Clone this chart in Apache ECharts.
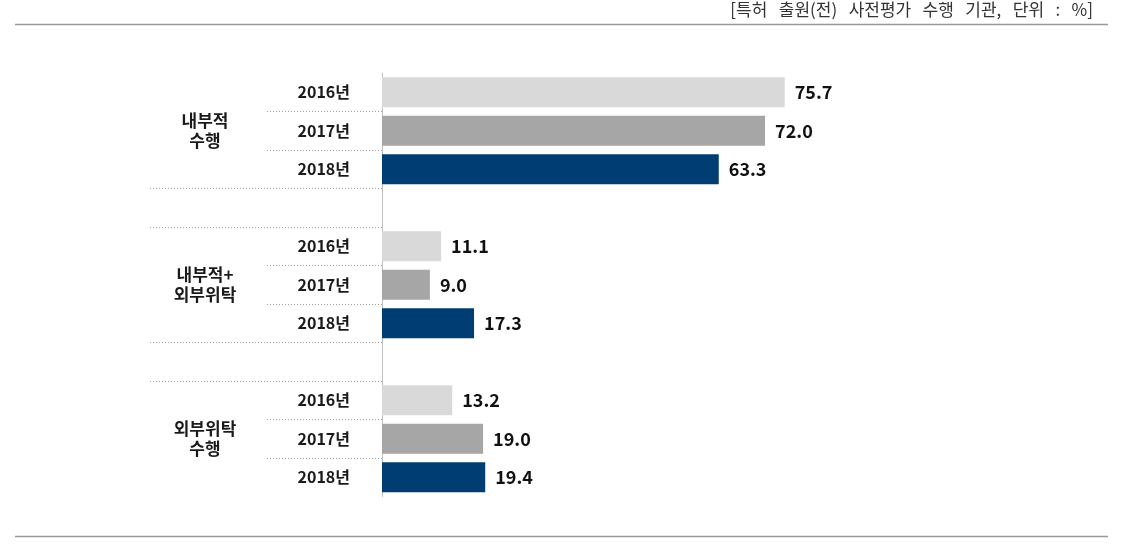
<!DOCTYPE html>
<html>
<head>
<meta charset="utf-8">
<script src="https://cdn.jsdelivr.net/npm/echarts@6/dist/echarts.min.js"></script>
<style>
html,body{margin:0;padding:0;background:#fff;}
#chart{width:1129px;height:555px;}
</style>
</head>
<body>
<div id="chart"></div>
<script>
var title = '[특허 출원(전) 사전평가 수행 기관, 단위 : %]';
var groups = ['내부적\n수행', '내부적+\n외부위탁', '외부위탁\n수행'];
var years = ['2016년', '2017년', '2018년'];
var valuesInternal = [75.7, 72.0, 63.3];
var valuesMixed = [11.1, 9.0, 17.3];
var valuesExternal = [13.2, 19.0, 19.4];
var yearColors = ['#D9D9D9', '#A6A6A6', '#003D73'];

var groupValues = [valuesInternal, valuesMixed, valuesExternal];

// build slots: 3 bars per group, one empty gap slot between groups
var slots = [];
groups.forEach(function (g, gi) {
  if (gi > 0) slots.push({key: 'gap' + gi, gap: true});
  years.forEach(function (y, yi) {
    slots.push({key: 'g' + gi + '-' + yi, gi: gi, yi: yi, gap: false});
  });
});
var cats = slots.map(function (s) { return s.key; });
var barData = slots.map(function (s) {
  if (s.gap) return '-';
  return {value: groupValues[s.gi][s.yi], itemStyle: {color: yearColors[s.yi]}};
});

var slotH = 38.5;
var gridTop = 73;
var gridLeft = 382;
// helper grids end where the last dotted separator of each kind falls
var shortCount = 10; // short separators between years
var longCount = 8;   // long separators around group gaps

var chart = echarts.init(document.getElementById('chart'));
var font = '"Noto Sans CJK KR", "Noto Sans", sans-serif';
var dotted = {color: '#A0A0A0', type: [1, 2], width: 1};
chart.setOption({
  animation: false,
  textStyle: {fontFamily: font},
  graphic: [
    {type: 'text', right: 36, top: 1, style: {text: title.replace(/ /g, '   '), font: '17px ' + font, fill: '#333'}},
    {type: 'line', shape: {x1: 15, y1: 24.5, x2: 1108, y2: 24.5}, style: {stroke: '#999', lineWidth: 1.5}},
    {type: 'line', shape: {x1: 15, y1: 536.5, x2: 1108, y2: 536.5}, style: {stroke: '#999', lineWidth: 1.5}}
  ],
  grid: [
    {left: gridLeft, top: gridTop, height: slotH * cats.length, right: 215},
    {left: gridLeft, top: gridTop, height: slotH * shortCount, right: 215},
    {left: gridLeft, top: gridTop, height: slotH * longCount, right: 215}
  ],
  xAxis: [
    {type: 'value', min: 0, max: 100, show: false, gridIndex: 0},
    {type: 'value', min: 0, max: 100, show: false, gridIndex: 1},
    {type: 'value', min: 0, max: 100, show: false, gridIndex: 2}
  ],
  yAxis: [
    {
      type: 'category', data: cats, inverse: true, gridIndex: 0, position: 'left', offset: 0,
      axisLine: {show: true, lineStyle: {color: '#C0C0C0', width: 1}},
      axisTick: {show: false},
      axisLabel: {
        interval: 0, margin: 32, fontSize: 16, fontWeight: 'bold', color: '#1a1a1a',
        formatter: function (v, i) { var s = slots[i]; return s.gap ? '' : years[s.yi]; }
      }
    },
    {
      type: 'category', data: cats, inverse: true, gridIndex: 0, position: 'left', offset: 0,
      axisLine: {show: false}, axisTick: {show: false},
      axisLabel: {
        interval: 0, margin: 177, align: 'center', fontSize: 17, fontWeight: 'bold', color: '#1a1a1a', lineHeight: 20,
        formatter: function (v, i) { var s = slots[i]; return (!s.gap && s.yi === 1) ? groups[s.gi] : ''; }
      }
    },
    {
      type: 'category', data: cats.slice(0, shortCount), inverse: true, gridIndex: 1, position: 'left',
      axisLine: {show: false}, axisLabel: {show: false},
      axisTick: {
        show: true, length: 117, lineStyle: dotted,
        interval: function (i) { return slots[i] && !slots[i].gap && slots[i].yi > 0; }
      }
    },
    {
      type: 'category', data: cats.slice(0, longCount), inverse: true, gridIndex: 2, position: 'left',
      axisLine: {show: false}, axisLabel: {show: false},
      axisTick: {
        show: true, length: 234, lineStyle: dotted,
        interval: function (i) { return slots[i] && (slots[i].gap || (slots[i].yi === 0 && slots[i].gi > 0)); }
      }
    }
  ],
  series: [{
    type: 'bar', data: barData, barWidth: 30, xAxisIndex: 0, yAxisIndex: 0,
    label: {show: true, position: 'right', distance: 10, fontSize: 18, fontWeight: 'bold', color: '#111',
      formatter: function (p) { return p.value.toFixed(1); }}
  }]
});
</script>
</body>
</html>
